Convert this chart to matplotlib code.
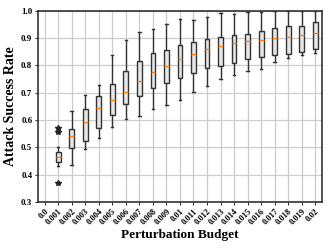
import matplotlib
matplotlib.use("Agg")
import matplotlib.pyplot as plt

budgets = ["0.0", "0.001", "0.002", "0.003", "0.004", "0.005", "0.006", "0.007",
           "0.008", "0.009", "0.01", "0.011", "0.012", "0.013", "0.014", "0.015",
           "0.016", "0.017", "0.018", "0.019", "0.02"]

# statistics for budgets 0.001 .. 0.02 (0.0 has no box)
q1 = [0.445, 0.496, 0.523, 0.569, 0.618, 0.657, 0.689, 0.716, 0.736, 0.752,
      0.771, 0.789, 0.799, 0.810, 0.823, 0.832, 0.838, 0.840, 0.848, 0.859]
med = [0.465, 0.540, 0.592, 0.644, 0.674, 0.702, 0.744, 0.777, 0.799, 0.822,
       0.840, 0.859, 0.871, 0.881, 0.889, 0.892, 0.899, 0.903, 0.911, 0.917]
q3 = [0.484, 0.566, 0.639, 0.688, 0.732, 0.779, 0.815, 0.844, 0.856, 0.874,
      0.884, 0.895, 0.905, 0.910, 0.915, 0.926, 0.936, 0.945, 0.945, 0.957]
whislo = [0.431, 0.437, 0.492, 0.535, 0.573, 0.602, 0.616, 0.640, 0.655, 0.673,
          0.701, 0.724, 0.749, 0.763, 0.778, 0.786, 0.811, 0.827, 0.839, 0.844]
whishi = [0.502, 0.634, 0.691, 0.727, 0.838, 0.893, 0.923, 0.932, 0.951, 0.968,
          0.966, 0.978, 0.990, 0.988, 0.994, 0.996, 0.999, 0.999, 0.999, 1.0]
fliers_001 = [0.572, 0.557, 0.371]

plt.rcParams['font.family'] = ['Liberation Serif', 'DejaVu Serif']
plt.rcParams['font.weight'] = 'bold'

fig = plt.figure(figsize=(3.32, 2.49), dpi=100)
ax = fig.add_axes([0.114, 0.189, 0.856, 0.768])

stats = []
for k in range(len(med)):
    stats.append(dict(med=med[k], q1=q1[k], q3=q3[k], whislo=whislo[k],
                      whishi=whishi[k], fliers=fliers_001 if k == 0 else []))

positions = list(range(1, len(budgets)))
ax.bxp(stats, positions=positions, widths=0.35, patch_artist=True,
       boxprops=dict(facecolor='#e6e6e6', edgecolor='#333333', linewidth=1.0),
       whiskerprops=dict(color='#333333', linewidth=1.0),
       capprops=dict(color='#333333', linewidth=1.0),
       medianprops=dict(color='#ff7f0e', linewidth=1.0),
       flierprops=dict(marker='*', markerfacecolor='#222222', markeredgecolor='#222222',
                       markersize=4))

ax.set_xlim(-0.5, len(budgets) - 0.5)
ax.set_ylim(0.3, 1.0)
ax.set_xticks(range(len(budgets)))
ax.set_xticklabels(budgets, rotation=45, fontsize=6, fontweight='bold',
                   ha='right', rotation_mode='anchor')
ax.set_yticks([0.3, 0.4, 0.5, 0.6, 0.7, 0.8, 0.9, 1.0])
ax.set_yticklabels(["0.3", "0.4", "0.5", "0.6", "0.7", "0.8", "0.9", "1.0"],
                   fontsize=6.5, fontweight='bold')
ax.tick_params(axis='both', length=2.5, width=0.8, pad=1.5, color='#333333')
ax.grid(True, color='#cccccc', linewidth=0.9)
ax.set_axisbelow(True)
for s in ax.spines.values():
    s.set_color('#333333')
    s.set_linewidth(1.2)

ax.set_xlabel("Perturbation Budget", fontsize=9.5, fontweight='bold', labelpad=2)
ax.set_ylabel("Attack Success Rate", fontsize=10, fontweight='bold', labelpad=3)

fig.savefig("out.png", dpi=100)
